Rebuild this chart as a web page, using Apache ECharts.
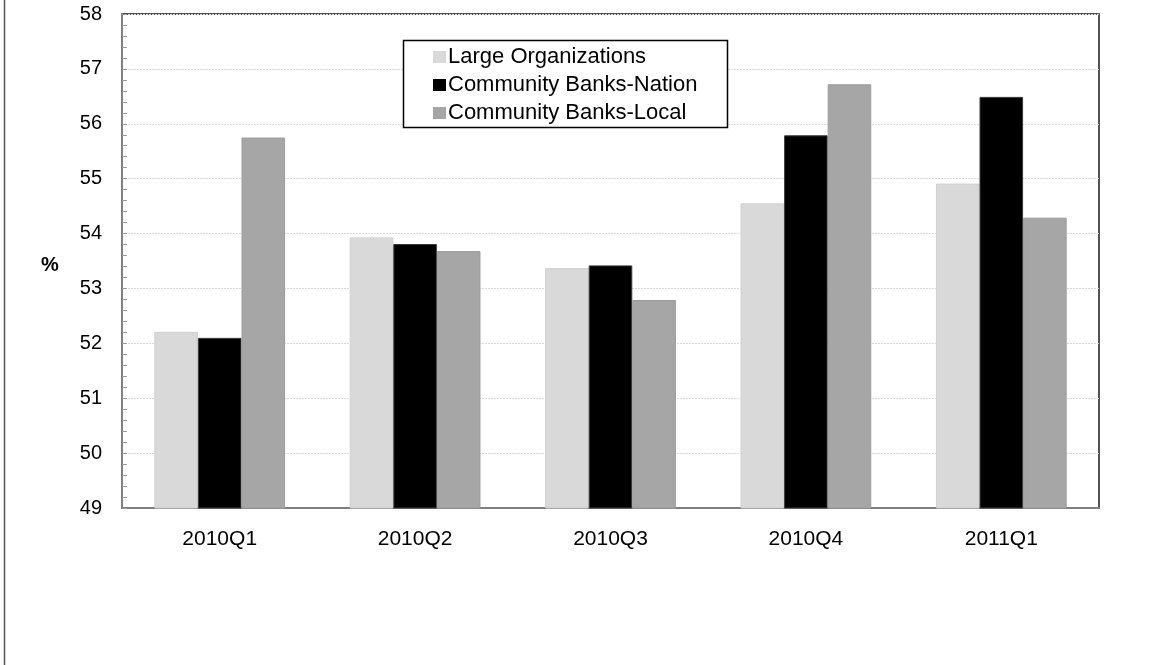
<!DOCTYPE html>
<html>
<head>
<meta charset="utf-8">
<title>Survey share by quarter</title>
<script src="https://cdn.jsdelivr.net/npm/echarts@6/dist/echarts.min.js"></script>
<style>
  html, body { margin: 0; padding: 0; background: #ffffff; }
  #chart { width: 1153px; height: 665px; }
</style>
</head>
<body>
<div id="chart"></div>
<script>
// Quarters on the horizontal axis
const quarters = ['2010Q1', '2010Q2', '2010Q3', '2010Q4', '2011Q1'];

// Percent values per respondent group
const largeOrganizations = [52.21, 53.93, 53.37, 54.55, 54.91];
const communityNation = [52.10, 53.81, 53.42, 55.79, 56.49];
const communityLocal = [55.75, 53.68, 52.79, 56.72, 54.29];

const seriesNames = ['Large Organizations', 'Community Banks-Nation', 'Community Banks-Local'];

const FONT = '"Liberation Sans", Arial, Helvetica, sans-serif';

const chart = echarts.init(document.getElementById('chart'), null, { renderer: 'canvas' });

function barSeries(name, data, fill, edge) {
  return {
    name: name,
    type: 'bar',
    data: data,
    barWidth: '22.3%',
    barGap: '0%',
    itemStyle: { color: fill, borderColor: edge, borderWidth: 1 },
    emphasis: { disabled: true },
    z: 2
  };
}

chart.setOption({
  animation: false,
  backgroundColor: '#ffffff',
  textStyle: { fontFamily: FONT },
  grid: {
    left: 122, right: 54, top: 14, bottom: 157,
    show: true,
    borderColor: '#1a1a1a',
    borderWidth: 1.5,
    backgroundColor: 'transparent'
  },
  legend: {
    orient: 'vertical',
    left: 403,
    top: 46,
    padding: [0, 0, 0, 30],
    itemGap: 6,
    itemWidth: 13,
    itemHeight: 12,
    icon: 'rect',
    selectedMode: false,
    z: 4,
    data: seriesNames,
    itemStyle: { borderWidth: 0 },
    textStyle: { fontFamily: FONT, fontSize: 22, color: '#000000', padding: [0, 0, 0, -3] }
  },
  xAxis: {
    type: 'category',
    data: quarters,
    axisLine: { show: true, lineStyle: { color: '#808080', width: 2 } },
    axisTick: { show: false },
    axisLabel: { color: '#000000', fontSize: 21, fontFamily: FONT, margin: 21 },
    splitLine: { show: false }
  },
  yAxis: {
    type: 'value',
    min: 49,
    max: 58,
    interval: 1,
    axisLine: { show: true, lineStyle: { color: '#808080', width: 2 } },
    axisTick: { show: true, inside: true, length: 5, lineStyle: { color: '#9a9a9a' } },
    minorTick: { show: true, splitNumber: 5, length: 5, lineStyle: { color: '#9a9a9a' } },
    axisLabel: { color: '#000000', fontSize: 20, fontFamily: FONT, margin: 20 },
    splitLine: { show: true, lineStyle: { color: '#d9d9d9', type: [2, 1], width: 1 } }
  },
  series: [
    barSeries(seriesNames[0], largeOrganizations, '#d9d9d9', '#cfcfcf'),
    barSeries(seriesNames[1], communityNation, '#000000', '#3a3a3a'),
    barSeries(seriesNames[2], communityLocal, '#a6a6a6', '#9c9c9c')
  ],
  graphic: [
    // legend frame
    {
      type: 'rect',
      shape: { x: 403.5, y: 40.5, width: 324, height: 87 },
      style: { fill: '#ffffff', stroke: '#000000', lineWidth: 1.5 },
      z: 3
    },
    // unit label for the value axis
    {
      type: 'text',
      left: 41,
      top: 255,
      style: { text: '%', font: 'bold 20px ' + FONT, fill: '#000000' }
    },
    // outer frame edge on the left
    {
      type: 'line',
      shape: { x1: 4.5, y1: 0, x2: 4.5, y2: 665 },
      style: { stroke: '#555555', lineWidth: 1.5 }
    }
  ]
});
</script>
</body>
</html>
